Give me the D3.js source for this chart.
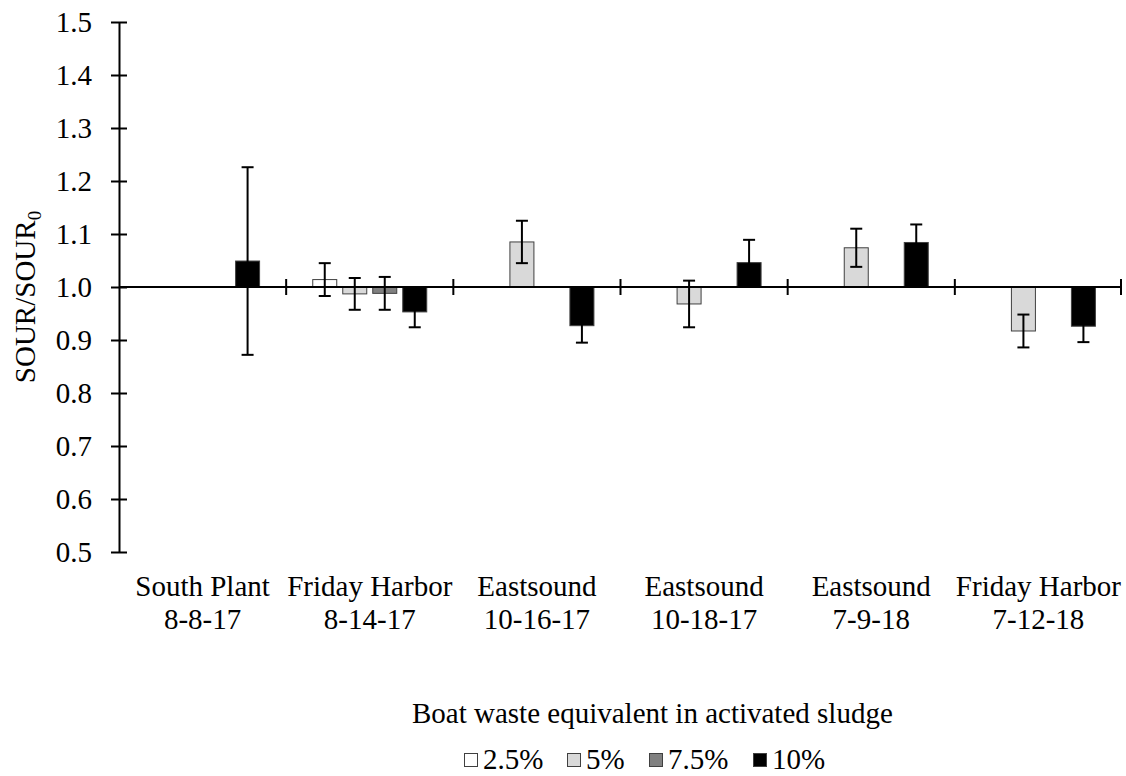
<!DOCTYPE html>
<html><head><meta charset="utf-8">
<script src="https://cdn.jsdelivr.net/npm/d3@7"></script>
<style>body{margin:0;background:#fff;} text{font-family:"Liberation Serif","Times New Roman",serif;fill:#000;}</style>
</head><body>
<svg id="c" width="1126" height="776" font-family="Liberation Serif"></svg>
<script>
const categoryLine1 = ["South Plant","Friday Harbor","Eastsound","Eastsound","Eastsound","Friday Harbor"];
const categoryLine2 = ["8-8-17","8-14-17","10-16-17","10-18-17","7-9-18","7-12-18"];
const seriesNames = ["2.5%","5%","7.5%","10%"];
const seriesColors = ["#ffffff","#d9d9d9","#808080","#000000"];
const values25 = [null, 1.014, null, null, null, null];
const errors25 = [null, 0.031, null, null, null, null];
const values5  = [null, 0.987, 1.085, 0.968, 1.074, 0.917];
const errors5  = [null, 0.030, 0.040, 0.044, 0.036, 0.031];
const values75 = [null, 0.988, null, null, null, null];
const errors75 = [null, 0.031, null, null, null, null];
const values10 = [1.049, 0.953, 0.927, 1.046, 1.084, 0.926];
const errors10 = [0.177, 0.029, 0.032, 0.043, 0.034, 0.030];
const yTicks = [0.5,0.6,0.7,0.8,0.9,1.0,1.1,1.2,1.3,1.4,1.5];

const allValues = [values25, values5, values75, values10];
const allErrors = [errors25, errors5, errors75, errors10];
const FS = 29;

const svg = d3.select("#c");
const x = d3.scaleBand().domain(d3.range(categoryLine1.length)).range([119, 1122]).padding(0);
const xs = d3.scaleBand().domain(d3.range(4)).range([0, 120]).paddingInner(0.2).paddingOuter(0.1);
const y = d3.scaleLinear().domain([0.5, 1.5]).range([552, 22]);
const base = 1.0;

// bars
const data = [];
allValues.forEach((arr, s) => arr.forEach((v, i) => { if (v != null) data.push({s, i, v, e: allErrors[s][i]}); }));
const bx = d => x(d.i) + x.bandwidth()/2 - 60 + xs(d.s);
svg.append("g").selectAll("rect").data(data).join("rect")
  .attr("x", bx).attr("width", xs.bandwidth())
  .attr("y", d => y(Math.max(d.v, base))).attr("height", d => Math.abs(y(d.v) - y(base)))
  .attr("fill", d => seriesColors[d.s]).attr("stroke", "#404040").attr("stroke-width", 1);

// error bars
const eg = svg.append("g").attr("stroke", "#000").attr("stroke-width", 2);
data.forEach(d => {
  const cx = bx(d) + xs.bandwidth()/2;
  eg.append("line").attr("x1", cx).attr("x2", cx).attr("y1", y(d.v + d.e)).attr("y2", y(d.v - d.e));
  [d.v + d.e, d.v - d.e].forEach(t => eg.append("line").attr("x1", cx - 6).attr("x2", cx + 6).attr("y1", y(t)).attr("y2", y(t)));
});

// y axis
const yAxis = d3.axisLeft(y).tickValues(yTicks).tickFormat(d3.format(".1f")).tickSizeInner(8).tickSizeOuter(0).tickPadding(19);
const ya = svg.append("g").attr("transform", "translate(119,0)").call(yAxis);
ya.attr("font-family", "Liberation Serif");
ya.select(".domain").attr("stroke", "#000").attr("stroke-width", 2);
ya.selectAll(".tick line").attr("x2", 8).attr("x1", -8).attr("stroke-width", 2);
ya.selectAll(".tick text").attr("font-size", FS).attr("dy", "0.33em");

// category axis at y=1.0
const xa = svg.append("g");
xa.append("line").attr("x1", 119).attr("x2", 1122).attr("y1", y(base)).attr("y2", y(base)).attr("stroke", "#000").attr("stroke-width", 2);
xa.selectAll("line.t").data(d3.range(1, categoryLine1.length + 1)).join("line").attr("class","t")
  .attr("x1", i => i < categoryLine1.length ? x(i) : 1121).attr("x2", i => i < categoryLine1.length ? x(i) : 1121)
  .attr("y1", y(base) - 8).attr("y2", y(base) + 8).attr("stroke", "#000").attr("stroke-width", 2);

// category labels
const cl = svg.append("g").attr("font-size", FS).attr("text-anchor", "middle");
categoryLine1.forEach((t, i) => {
  cl.append("text").attr("x", x(i) + x.bandwidth()/2).attr("y", 596).text(t);
  cl.append("text").attr("x", x(i) + x.bandwidth()/2).attr("y", 629).text(categoryLine2[i]);
});

// y label
const yl = svg.append("text").attr("transform", "translate(35,297) rotate(-90)").attr("text-anchor", "middle").attr("font-size", FS);
yl.append("tspan").text("SOUR/SOUR");
yl.append("tspan").attr("font-size", 19).attr("dy", 6).text("0");

// x title
svg.append("text").attr("x", 412).attr("y", 723).attr("text-anchor", "start").attr("font-size", FS).text("Boat waste equivalent in activated sludge");

// legend
const legX = [464, 567, 649, 753];
const lg = svg.append("g");
seriesNames.forEach((n, s) => {
  lg.append("rect").attr("x", legX[s] + 0.5).attr("y", 753.5).attr("width", 13).attr("height", 13)
    .attr("fill", seriesColors[s]).attr("stroke", "#404040").attr("stroke-width", 1);
  lg.append("text").attr("x", legX[s] + 19).attr("y", 769).attr("font-size", FS).text(n);
});
</script>
</body></html>
